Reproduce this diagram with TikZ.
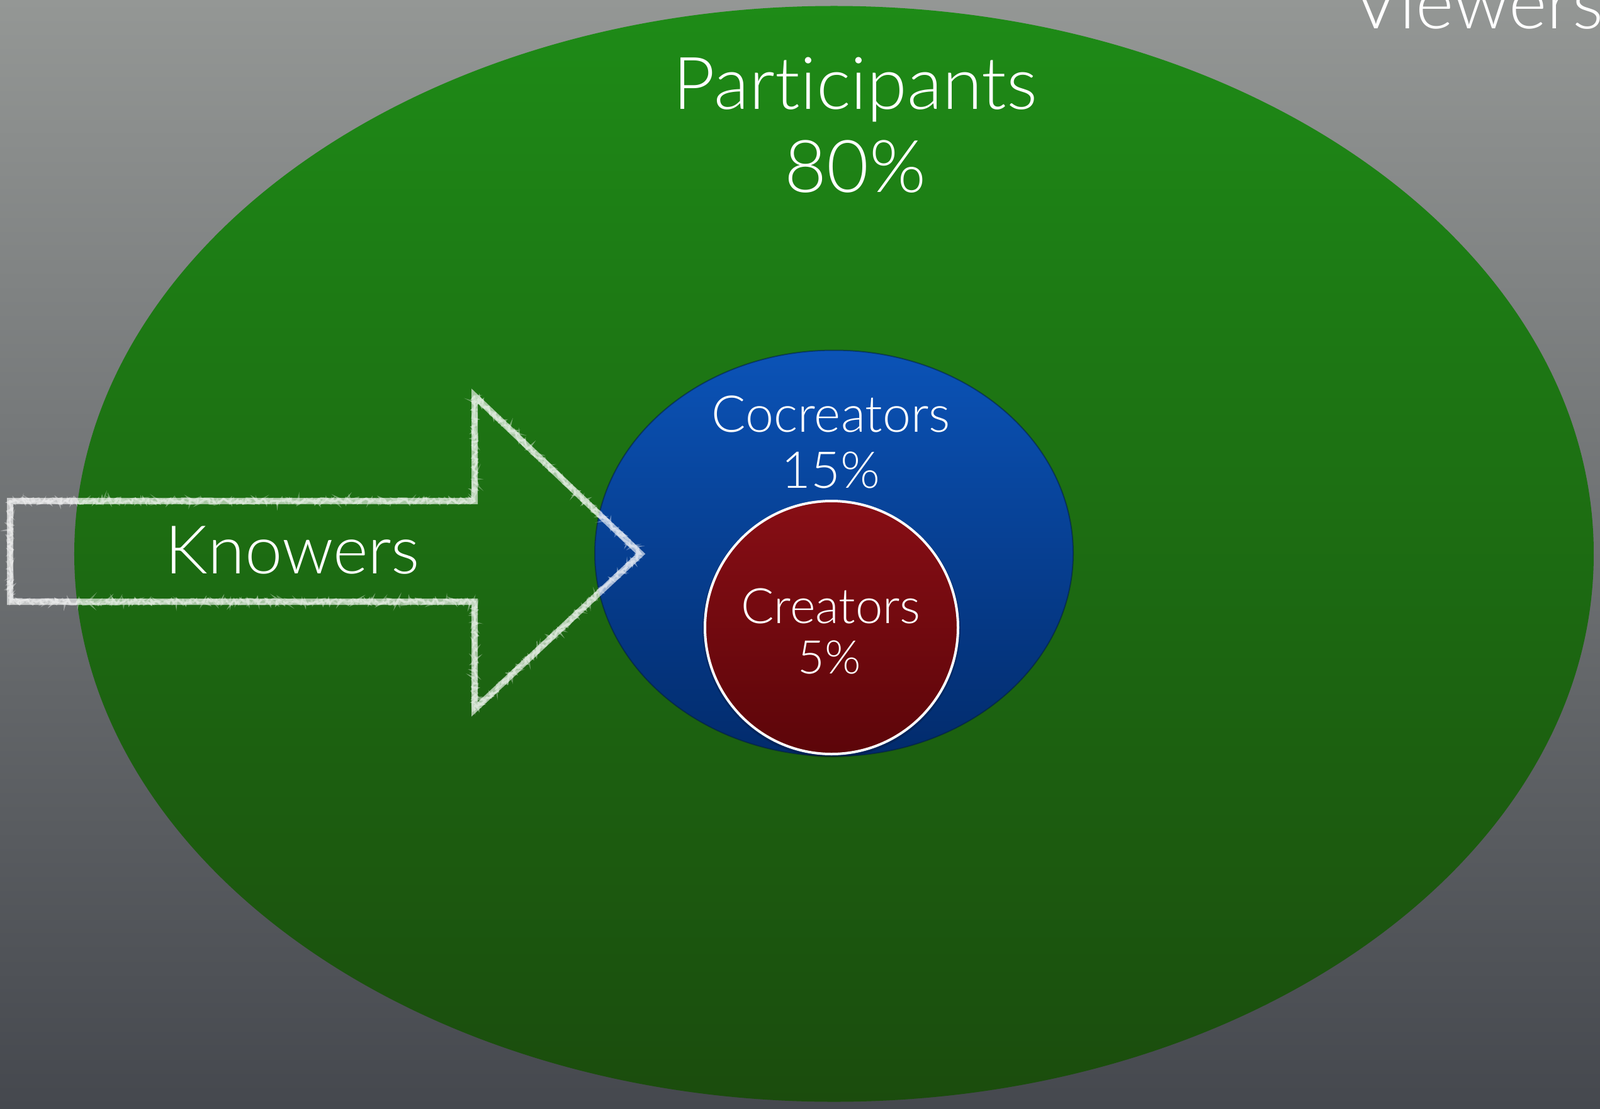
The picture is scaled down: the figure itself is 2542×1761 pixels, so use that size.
\documentclass[tikz,border=0pt]{standalone}
\usepackage{fontspec}
\setmainfont{Lato Light}[Ligatures={NoCommon}]
\usetikzlibrary{shapes.geometric,decorations.pathmorphing}
\definecolor{bgtop}{HTML}{949795}
\definecolor{bgbot}{HTML}{45484E}
\definecolor{grtop}{HTML}{1E8B17}
\definecolor{grbot}{HTML}{1B4C0D}
\definecolor{bltop}{HTML}{0B53B7}
\definecolor{blbot}{HTML}{022B6C}
\definecolor{rdtop}{HTML}{870E15}
\definecolor{rdbot}{HTML}{5C0509}
\begin{document}
\begin{tikzpicture}[x=1bp,y=-1bp,
  lbl/.style={text=white, inner sep=0, anchor=base},
  huge/.style={lbl, font=\fontsize{116}{130}\selectfont},
  know/.style={lbl, font=\fontsize{107}{130}\selectfont},
  mid/.style={lbl, font=\fontsize{81}{100}\selectfont},
  small/.style={lbl, font=\fontsize{78}{90}\selectfont},
  tiny/.style={lbl, font=\fontsize{74}{90}\selectfont},
  chalk/.style={draw=white, line width=10bp, opacity=0.62, line join=miter},
  chalkgrain/.style={draw=white, line width=3bp, opacity=0.4,
    decorate, decoration={random steps, segment length=2.5bp, amplitude=5bp}},
]
\useasboundingbox (0,0) rectangle (2542,1761);
\shade[top color=bgtop,bottom color=bgbot] (0,0) rectangle (2542,1761);

\node (part) [ellipse, inner sep=0, minimum width=2414bp, minimum height=1741bp,
  top color=grtop, bottom color=grbot] at (1325,880) {};
\node (cocr) [ellipse, inner sep=0, minimum width=760bp, minimum height=645bp,
  top color=bltop, bottom color=blbot, draw=black!40!blbot, draw opacity=0.5, line width=2bp] at (1325,879) {};
\node (crshadow) [circle, inner sep=0, minimum size=410bp, fill=black, opacity=0.18] at (1321,999) {};
\node (crea) [circle, inner sep=0, minimum size=402bp,
  top color=rdtop, bottom color=rdbot, draw=white, line width=4bp] at (1321,997) {};

\coordinate (a1) at (16,796);
\coordinate (a2) at (754,796);
\coordinate (a3) at (754,629);
\coordinate (tip) at (1018,880);
\coordinate (a5) at (754,1127);
\coordinate (a6) at (754,956);
\coordinate (a7) at (16,956);
\draw[chalk] (a1) -- (a2) -- (a3) -- (tip) -- (a5) -- (a6) -- (a7) -- cycle;
\draw[chalkgrain] (a1) -- (a2) -- (a3) -- (tip) -- (a5) -- (a6) -- (a7) -- cycle;
\draw[chalkgrain, opacity=0.3] (a1) -- (a2) -- (a3) -- (tip) -- (a5) -- (a6) -- (a7) -- cycle;

\node (tpart) [huge] at (1359,173) {Participants};
\node (tpartp) [huge] at (1359,305) {80\%};
\node (tview) [huge, anchor=base east] at (2547,45) {Viewers};
\node (tcocr) [mid] at (1320,686) {Cocreators};
\node (tcocrp) [mid] at (1320,775) {15\%};
\node (tcrea) [small] at (1320,990) {Creators};
\node (tcreap) [tiny] at (1318,1070) {5\%};
\node (tknow) [know] at (465,911) {Knowers};
\end{tikzpicture}
\end{document}
